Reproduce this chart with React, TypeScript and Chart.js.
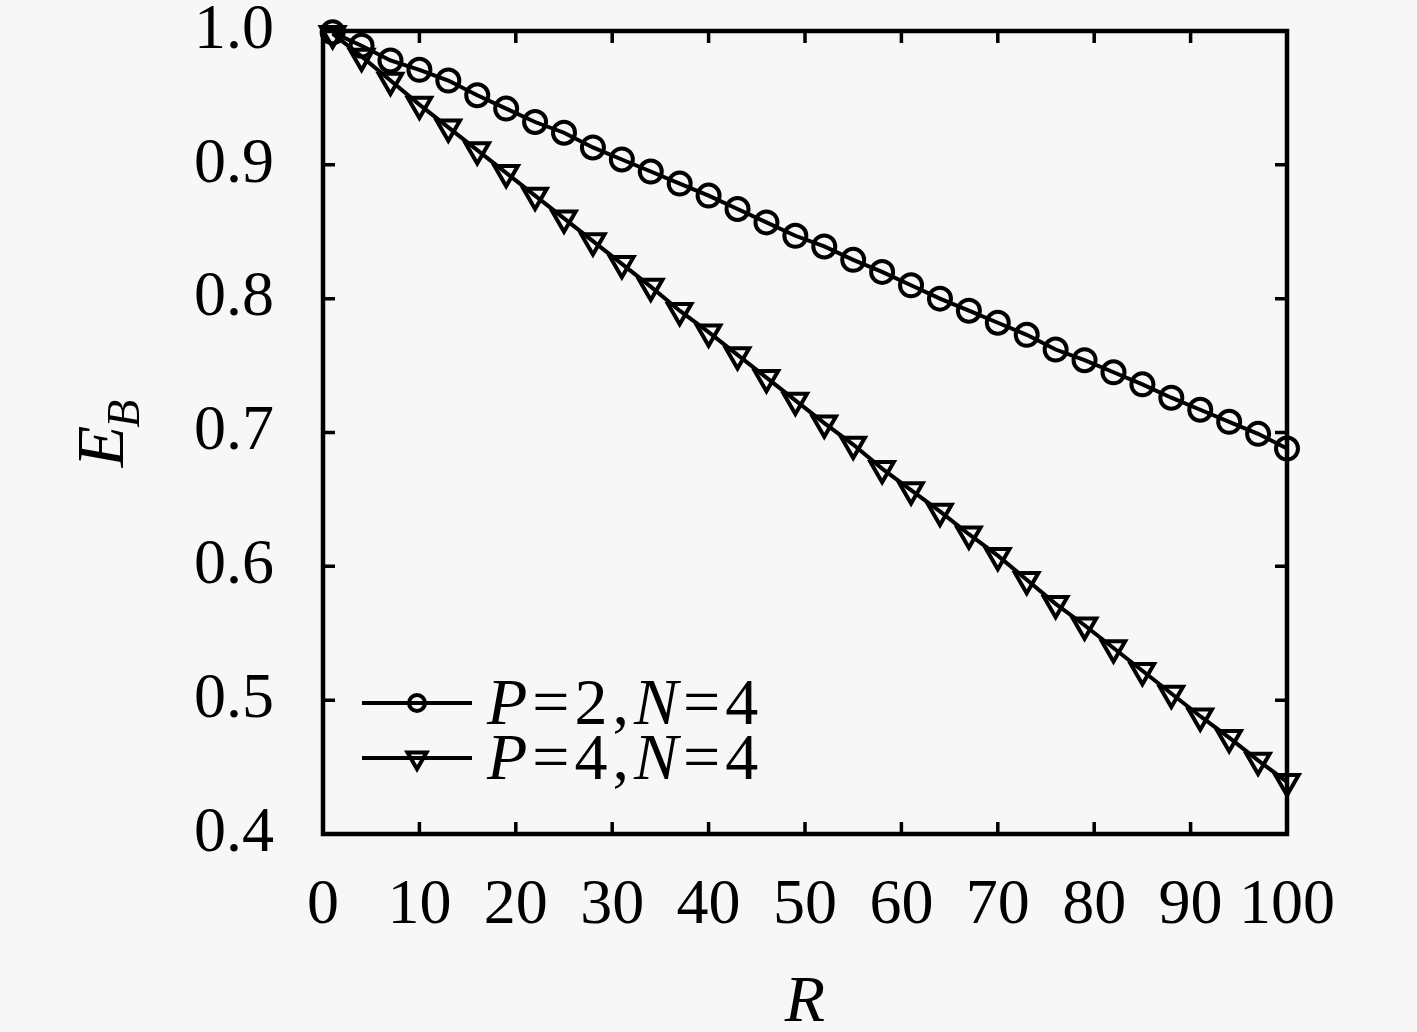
import React, { useEffect, useRef } from "react";
import { Chart, registerables, Plugin } from "chart.js";

Chart.register(...registerables);

// R values at which both curves were sampled
const rValues = [
  1, 4, 7, 10, 13, 16, 19, 22, 25, 28, 31, 34, 37, 40, 43, 46, 49,
  52, 55, 58, 61, 64, 67, 70, 73, 76, 79, 82, 85, 88, 91, 94, 97, 100,
];

// E_B for P=2, N=4 (circles)
const ebP2N4 = [
  0.999, 0.989, 0.978, 0.971, 0.963, 0.952, 0.942, 0.932, 0.924, 0.913,
  0.904, 0.895, 0.886, 0.877, 0.867, 0.857, 0.847, 0.839, 0.829, 0.82,
  0.81, 0.8, 0.791, 0.782, 0.773, 0.762, 0.754, 0.745, 0.736, 0.726,
  0.717, 0.708, 0.699, 0.688,
];

// E_B for P=4, N=4 (down triangles)
const ebP4N4 = [
  0.998, 0.981, 0.963, 0.945, 0.928, 0.911, 0.894, 0.877, 0.86, 0.843,
  0.826, 0.809, 0.791, 0.775, 0.758, 0.741, 0.724, 0.707, 0.691, 0.673,
  0.657, 0.641, 0.624, 0.608, 0.59, 0.572, 0.556, 0.539, 0.522, 0.505,
  0.488, 0.472, 0.455, 0.439,
];

const xTicks = [0, 10, 20, 30, 40, 50, 60, 70, 80, 90, 100];
const yTicks = [0.4, 0.5, 0.6, 0.7, 0.8, 0.9, 1.0];
const seriesLabels = ["P=2,N=4", "P=4,N=4"];

const FONT = "'Liberation Serif', 'Times New Roman', serif";
const BG = "#f7f7f7";

// frame with inward ticks on all four sides
const framePlugin: Plugin<"line"> = {
  id: "frame",
  beforeDatasetsDraw(chart) {
    const { ctx, chartArea: a, scales } = chart;
    const tl = 12;
    ctx.save();
    ctx.strokeStyle = "#000";
    ctx.lineWidth = 3.5;
    ctx.beginPath();
    xTicks.forEach((v) => {
      if (v === xTicks[0] || v === xTicks[xTicks.length - 1]) return;
      const px = scales.x.getPixelForValue(v);
      ctx.moveTo(px, a.bottom);
      ctx.lineTo(px, a.bottom - tl);
      ctx.moveTo(px, a.top);
      ctx.lineTo(px, a.top + tl);
    });
    yTicks.forEach((v) => {
      if (v === yTicks[0] || v === yTicks[yTicks.length - 1]) return;
      const py = scales.y.getPixelForValue(v);
      ctx.moveTo(a.left, py);
      ctx.lineTo(a.left + tl, py);
      ctx.moveTo(a.right, py);
      ctx.lineTo(a.right - tl, py);
    });
    ctx.stroke();
    ctx.lineWidth = 4.5;
    ctx.strokeRect(a.left, a.top, a.right - a.left, a.bottom - a.top);
    ctx.restore();
  },
};

// draws "P=2,N=4" with italic letters and upright symbols
function drawMathText(ctx: CanvasRenderingContext2D, text: string, x: number, y: number, size: number) {
  const parts = text.match(/[A-Za-z]+|[^A-Za-z]/g) || [];
  let cx = x;
  parts.forEach((p, i) => {
    const italic = /[A-Za-z]/.test(p);
    ctx.font = `${italic ? "italic " : ""}${size}px ${FONT}`;
    ctx.fillText(p, cx, y);
    cx += ctx.measureText(p).width + (i < parts.length - 1 ? 5 : 0);
  });
}

function drawMarker(ctx: CanvasRenderingContext2D, style: string, x: number, y: number, r: number) {
  ctx.beginPath();
  if (style === "circle") {
    ctx.arc(x, y, r, 0, Math.PI * 2);
  } else {
    // downward triangle
    for (let k = 0; k < 3; k++) {
      const ang = Math.PI + (k * 2 * Math.PI) / 3;
      const px = x + Math.sin(ang) * r;
      const py = y - Math.cos(ang) * r;
      if (k === 0) ctx.moveTo(px, py);
      else ctx.lineTo(px, py);
    }
    ctx.closePath();
  }
  ctx.stroke();
}

const annotationPlugin: Plugin<"line"> = {
  id: "annotations",
  afterDraw(chart) {
    const { ctx, chartArea: a } = chart;
    ctx.save();
    ctx.fillStyle = "#000";
    ctx.strokeStyle = "#000";

    // x title
    ctx.font = `italic 66px ${FONT}`;
    ctx.textAlign = "center";
    ctx.textBaseline = "middle";
    ctx.fillText("R", (a.left + a.right) / 2, a.bottom + 170);

    // y title E_B
    ctx.save();
    ctx.translate(a.left - 222, (a.top + a.bottom) / 2);
    ctx.rotate(-Math.PI / 2);
    ctx.textAlign = "left";
    ctx.textBaseline = "alphabetic";
    ctx.font = `italic 68px ${FONT}`;
    const wE = ctx.measureText("E").width;
    ctx.font = `italic 46px ${FONT}`;
    const wB = ctx.measureText("B").width;
    const start = -(wE + wB) / 2;
    ctx.font = `italic 68px ${FONT}`;
    ctx.fillText("E", start, 22);
    ctx.font = `italic 46px ${FONT}`;
    ctx.fillText("B", start + wE - 2, 38);
    ctx.restore();

    // legend
    ctx.textAlign = "left";
    ctx.textBaseline = "alphabetic";
    chart.data.datasets.forEach((ds, i) => {
      const y = a.bottom - 131 + i * 55;
      const x0 = a.left + 39;
      const x1 = a.left + 149;
      ctx.lineWidth = 4;
      ctx.beginPath();
      ctx.moveTo(x0, y);
      ctx.lineTo(x1, y);
      ctx.stroke();
      const style = (ds as any).pointStyle as string;
      drawMarker(ctx, style, (x0 + x1) / 2, y, style === "circle" ? 8 : 11);
      drawMathText(ctx, ds.label || "", a.left + 164, y + 21, 66);
    });
    ctx.restore();
  },
};

export default function App() {
  const canvasRef = useRef<HTMLCanvasElement | null>(null);
  const chartRef = useRef<Chart<"line"> | null>(null);

  useEffect(() => {
    document.body.style.margin = "0";
    document.body.style.background = BG;
    const canvas = canvasRef.current;
    if (!canvas) return;
    if (chartRef.current) chartRef.current.destroy();

    const common = {
      borderColor: "#000",
      borderWidth: 4,
      pointBorderColor: "#000",
      pointBackgroundColor: "rgba(0,0,0,0)",
      pointBorderWidth: 4,
      tension: 0,
      clip: false as const,
    };

    const noPad = (scale: any) => {
      scale.paddingTop = 0;
      scale.paddingBottom = 0;
      scale.paddingLeft = 0;
      scale.paddingRight = 0;
    };

    chartRef.current = new Chart(canvas, {
      type: "line",
      data: {
        datasets: [
          {
            ...common,
            label: seriesLabels[0],
            data: rValues.map((r, i) => ({ x: r, y: ebP2N4[i] })),
            pointStyle: "circle",
            pointRadius: 11,
          },
          {
            ...common,
            label: seriesLabels[1],
            data: rValues.map((r, i) => ({ x: r, y: ebP4N4[i] })),
            pointStyle: "triangle",
            pointRotation: 180,
            pointRadius: 13.5,
          },
        ],
      },
      options: {
        animation: false,
        responsive: true,
        maintainAspectRatio: false,
        layout: { padding: { top: 31, right: 130, bottom: 0, left: 0 } },
        plugins: {
          legend: { display: false },
          tooltip: { enabled: false },
        },
        scales: {
          x: {
            type: "linear",
            min: 0,
            max: 100,
            afterFit: (scale) => {
              scale.height = 198;
              noPad(scale);
            },
            afterBuildTicks: (scale) => {
              scale.ticks = xTicks.map((v) => ({ value: v }));
            },
            grid: { display: false, drawTicks: false },
            border: { display: false },
            ticks: {
              color: "#000",
              padding: 34,
              maxRotation: 0,
              autoSkip: false,
              font: { family: FONT, size: 64 },
              callback: (v) => String(v),
            },
          },
          y: {
            min: 0.4,
            max: 1.0,
            afterFit: (scale) => {
              scale.width = 323;
              noPad(scale);
            },
            afterBuildTicks: (scale) => {
              scale.ticks = yTicks.map((v) => ({ value: v }));
            },
            grid: { display: false, drawTicks: false },
            border: { display: false },
            ticks: {
              color: "#000",
              padding: 49,
              autoSkip: false,
              font: { family: FONT, size: 64 },
              callback: (v) => Number(v).toFixed(1),
            },
          },
        },
      },
      plugins: [framePlugin, annotationPlugin],
    });

    return () => {
      if (chartRef.current) {
        chartRef.current.destroy();
        chartRef.current = null;
      }
    };
  }, []);

  return (
    <div style={{ width: 1417, height: 1032, background: BG, position: "relative" }}>
      <canvas ref={canvasRef} style={{ display: "block" }}></canvas>
    </div>
  );
}
